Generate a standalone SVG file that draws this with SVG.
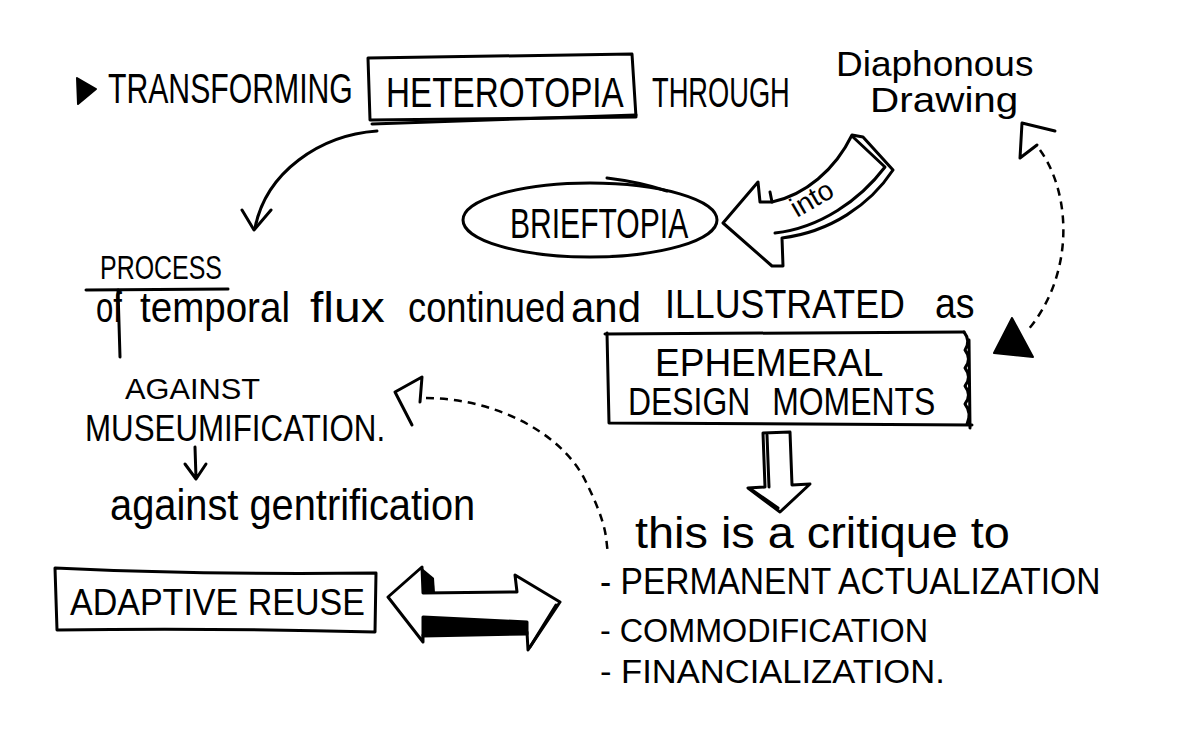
<svg xmlns="http://www.w3.org/2000/svg" width="1177" height="732" viewBox="0 0 1177 732">
<style>
.t{font-family:"Liberation Sans",Arial,sans-serif;fill:#000}
.ln{fill:none;stroke:#000;stroke-width:3;stroke-linecap:round;stroke-linejoin:round}
.sh{fill:#fff;stroke:#000;stroke-width:3;stroke-linejoin:round}
.dash{fill:none;stroke:#000;stroke-width:2.5;stroke-dasharray:8 6;stroke-linecap:butt}
</style>
<rect width="1177" height="732" fill="#fff"/>

<g id="title">
  <polygon points="77,78 96,89 78,104" fill="#000" stroke="#000" stroke-width="2" stroke-linejoin="round"/>
  <text class="t" font-size="42" transform="translate(108,103) scale(0.72,1)" textLength="340" lengthAdjust="spacingAndGlyphs">TRANSFORMING</text>
</g>

<g id="heterotopia">
  <path class="ln" d="M368,58 L632,54 L636,117 L370,120 Z"/>
  <path class="ln" d="M372,124 L636,115"/>
  <text class="t" font-size="42" transform="translate(386,107) scale(0.79,1)" textLength="301" lengthAdjust="spacingAndGlyphs">HETEROTOPIA</text>
</g>

<g id="through">
  <text class="t" font-size="42" transform="translate(652,107) scale(0.65,1)" textLength="212" lengthAdjust="spacingAndGlyphs">THROUGH</text>
</g>

<g id="diaphonous">
  <text class="t" font-size="35" transform="translate(836,76) scale(1.05,1)" textLength="188" lengthAdjust="spacingAndGlyphs">Diaphonous</text>
  <text class="t" font-size="35" transform="translate(870,112) scale(1.15,1)" textLength="129" lengthAdjust="spacingAndGlyphs">Drawing</text>
</g>

<g id="brieftopia">
  <ellipse class="ln" cx="590" cy="220" rx="127" ry="37"/>
  <path class="ln" d="M607,178 Q640,182 667,191"/>
  <text class="t" font-size="42" transform="translate(510,238) scale(0.71,1)" textLength="251" lengthAdjust="spacingAndGlyphs">BRIEFTOPIA</text>
</g>

<g id="process">
  <text class="t" font-size="34" transform="translate(100,279) scale(0.73,1)" textLength="167" lengthAdjust="spacingAndGlyphs">PROCESS</text>
  <path class="ln" d="M86,290 L228,289"/>
  <path class="ln" d="M118,290 L120,357"/>
  <text class="t" font-size="42" transform="translate(96,322) scale(0.74,1)" textLength="35" lengthAdjust="spacingAndGlyphs">of</text>
  <text class="t" font-size="42" transform="translate(140,322) scale(0.92,1)" textLength="163" lengthAdjust="spacingAndGlyphs">temporal</text>
  <text class="t" font-size="42" transform="translate(310,322) scale(1.15,1)" textLength="65" lengthAdjust="spacingAndGlyphs">flux</text>
  <text class="t" font-size="42" transform="translate(408,322) scale(0.86,1)" textLength="183" lengthAdjust="spacingAndGlyphs">continued</text>
  <text class="t" font-size="42" transform="translate(571,322) scale(1.0,1)" textLength="70" lengthAdjust="spacingAndGlyphs">and</text>
  <text class="t" font-size="40" transform="translate(665,318) scale(0.885,1)" textLength="271" lengthAdjust="spacingAndGlyphs">ILLUSTRATED</text>
  <text class="t" font-size="42" transform="translate(935,318) scale(0.9,1)" textLength="44" lengthAdjust="spacingAndGlyphs">as</text>
</g>

<g id="ephemeral">
  <path class="ln" d="M605,334 L964,332 M607,333 L609,423 L972,425"/>
  <path class="ln" d="M964,332 q7,9 1,18 q7,9 0,18 q7,9 0,18 q7,9 0,18 q7,9 2,20 M969,340 L970,428"/>
  <text class="t" font-size="38" transform="translate(655,376) scale(0.98,1)" textLength="233" lengthAdjust="spacingAndGlyphs">EPHEMERAL</text>
  <text class="t" font-size="38" transform="translate(628,415) scale(0.84,1)">DESIGN<tspan dx="26">MOMENTS</tspan></text>
</g>

<g id="against">
  <text class="t" font-size="30" transform="translate(125,399) scale(1.0,1)" textLength="135" lengthAdjust="spacingAndGlyphs">AGAINST</text>
  <text class="t" font-size="37" transform="translate(85,441) scale(0.82,1)" textLength="366" lengthAdjust="spacingAndGlyphs">MUSEUMIFICATION.</text>
  <text class="t" font-size="44" transform="translate(110,520) scale(0.88,1)" textLength="415" lengthAdjust="spacingAndGlyphs">against gentrification</text>
</g>

<g id="adaptive-reuse">
  <path class="ln" d="M55,568 Q200,575 376,573 L375,632 Q220,628 57,630 Z"/>
  <text class="t" font-size="36" transform="translate(70,615) scale(0.945,1)" textLength="312" lengthAdjust="spacingAndGlyphs">ADAPTIVE REUSE</text>
</g>

<g id="critique">
  <text class="t" font-size="44" transform="translate(635,548) scale(1.065,1)" textLength="352" lengthAdjust="spacingAndGlyphs">this is a critique to</text>
  <text class="t" font-size="37" transform="translate(600,594) scale(0.9,1)" textLength="556" lengthAdjust="spacingAndGlyphs">- PERMANENT ACTUALIZATION</text>
  <text class="t" font-size="34" transform="translate(600,642) scale(0.94,1)" textLength="349" lengthAdjust="spacingAndGlyphs">- COMMODIFICATION</text>
  <text class="t" font-size="34" transform="translate(600,683) scale(1.02,1)" textLength="338" lengthAdjust="spacingAndGlyphs">- FINANCIALIZATION.</text>
</g>

<g id="connectors">
  <!-- heterotopia to process -->
  <path class="ln" d="M377,131 C320,135 266,172 255,228"/>
  <path class="ln" d="M242,210 L254,230 L271,210"/>

  <!-- into block arrow -->
  <path class="sh" d="M723,223 L758,182 L760,202 L772,202 C805,195 835,170 852,135 L863,137 L893,170 C870,205 830,232 782,238 L783,266 L772,266 Z"/>
  <path class="ln" d="M853,137 L885,167 C860,200 820,228 775,233"/>
  <path class="ln" d="M770,192 L772,202"/>
  <text class="t" font-size="28" transform="translate(797,218) rotate(-30)">into</text>

  <!-- dashed: ephemeral <-> diaphonous drawing -->
  <path class="dash" d="M1040,150 C1072,195 1074,275 1028,330"/>
  <path class="ln" d="M1055,131 L1022,123 L1020,158 L1037,145"/>
  <polygon points="1012,318 994,353 1033,357" fill="#000" stroke="#000" stroke-width="2" stroke-linejoin="round"/>

  <!-- ephemeral down arrow -->
  <path class="sh" d="M763,433 L790,432 L792,485 L810,484 L780,512 L748,488 L765,487 Z"/>
  <path class="ln" d="M767,435 L769,487" stroke-width="6"/>
  <path class="ln" d="M752,490 L778,508" stroke-width="5"/>

  <!-- museumification down arrow -->
  <path class="ln" d="M195,447 L196,478 M185,464 L196,479 L206,464"/>

  <!-- dashed: critique to against -->
  <path class="dash" d="M426,398 C490,398 560,430 585,480 S605,540 608,552"/>
  <path class="ln" d="M412,425 L395,392 L422,377 L420,402"/>

  <!-- double block arrow -->
  <path class="sh" d="M388,597 L422,567 L423,593 L517,592 L515,575 L560,602 L528,650 L527,632 L423,635 L423,642 Z"/>
  <path d="M423,617 L527,622 L527,634 L423,636 Z" fill="#000" stroke="#000" stroke-width="3" stroke-linejoin="round"/>
  <path d="M422,568 L434,578 L435,593 L423,593 Z" fill="#000"/>
  <path class="ln" d="M556,605 L530,647" stroke-width="7"/>
</g>
</svg>
